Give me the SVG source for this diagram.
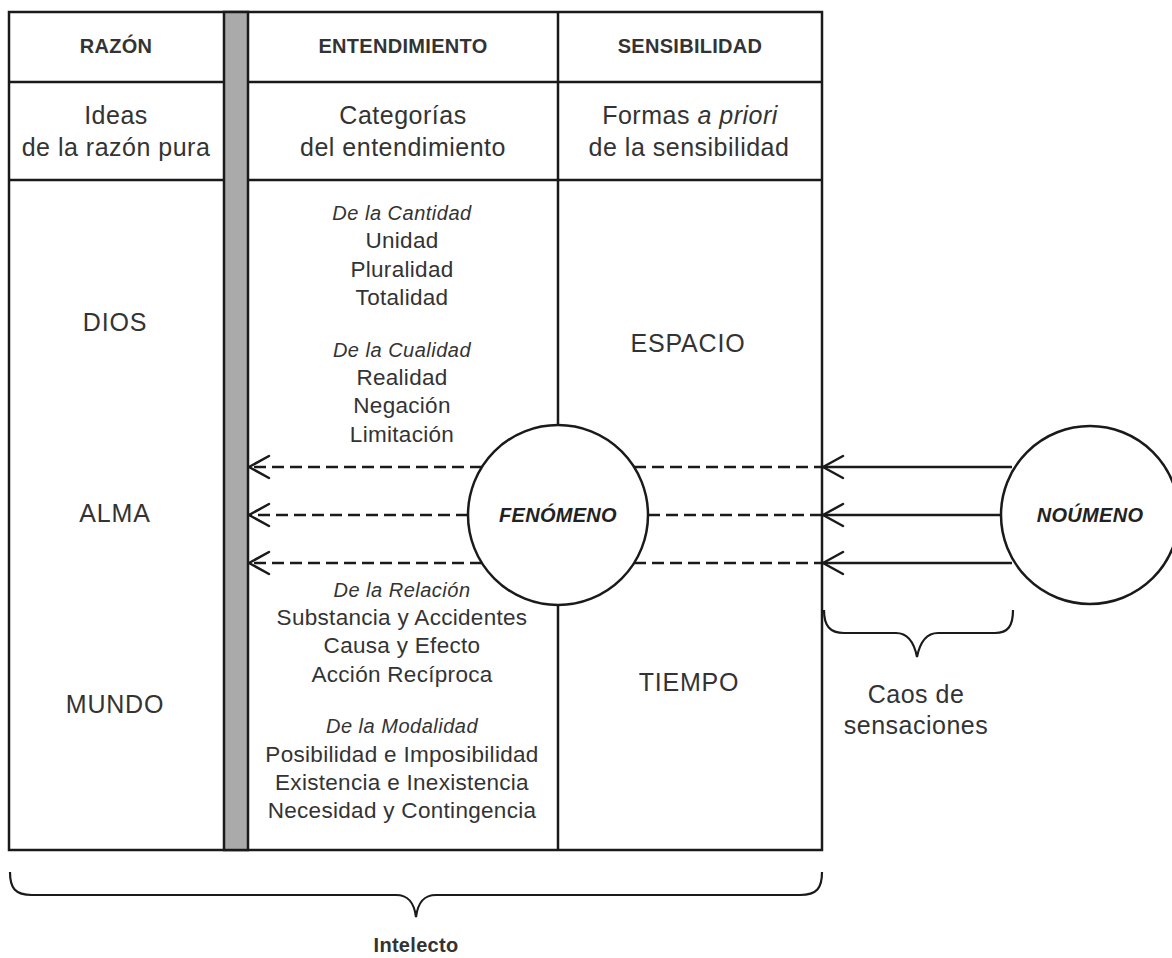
<svg xmlns="http://www.w3.org/2000/svg" width="1172" height="958" viewBox="0 0 1172 958">
<style>
text{font-family:"Liberation Sans",Arial,sans-serif;fill:#333;text-anchor:middle}
.hd{font-size:20px;font-weight:bold;letter-spacing:0.3px}
.r2{font-size:25px;letter-spacing:0.5px}
.big{font-size:25px;letter-spacing:0.8px}
.bd{font-size:22.5px;letter-spacing:0.3px}
.it{font-size:20px;font-style:italic;letter-spacing:0.5px}
.nd{font-size:20px;font-weight:bold;font-style:italic;letter-spacing:0.3px;fill:#222}
.ln{stroke:#1a1a1a;stroke-width:2.5;fill:none}
.dash{stroke:#1a1a1a;stroke-width:2.5;fill:none;stroke-dasharray:12 6}
.circ{fill:#fff;stroke:#1a1a1a;stroke-width:2.5}
.brace{stroke:#1a1a1a;stroke-width:2.2;fill:none}
</style>
<defs>
<marker id="open" markerUnits="userSpaceOnUse" viewBox="0 0 26 28" markerWidth="26" markerHeight="28" refX="23" refY="14" orient="auto">
<path d="M3 3 L23 14 L3 25" fill="none" stroke="#1a1a1a" stroke-width="2.5" stroke-linecap="round" stroke-linejoin="round"/>
</marker>
</defs>
<rect width="1172" height="958" fill="#fff"/>
<g id="table">
<rect class="ln" x="9" y="12" width="813" height="838"/>
<line class="ln" x1="9" y1="82" x2="822" y2="82"/>
<line class="ln" x1="9" y1="180" x2="822" y2="180"/>
<line class="ln" x1="558" y1="12" x2="558" y2="850"/>
<rect x="224" y="12" width="24" height="838" fill="#aaa" stroke="#1a1a1a" stroke-width="2.5"/>
</g>
<g id="razon">
<text class="hd" x="116" y="53">RAZÓN</text>
<text class="r2" x="116" y="124">Ideas</text>
<text class="r2" x="116" y="156">de la razón pura</text>
<text class="big" x="115" y="331">DIOS</text>
<text class="big" x="115" y="522">ALMA</text>
<text class="big" x="115" y="713">MUNDO</text>
</g>
<g id="entendimiento">
<text class="hd" x="403" y="53">ENTENDIMIENTO</text>
<text class="r2" x="403" y="124">Categorías</text>
<text class="r2" x="403" y="156">del entendimiento</text>
<text class="it" x="402" y="220">De la Cantidad</text>
<text class="bd" x="402" y="248">Unidad</text>
<text class="bd" x="402" y="277">Pluralidad</text>
<text class="bd" x="402" y="305">Totalidad</text>
<text class="it" x="402" y="357">De la Cualidad</text>
<text class="bd" x="402" y="385">Realidad</text>
<text class="bd" x="402" y="413">Negación</text>
<text class="bd" x="402" y="442">Limitación</text>
<text class="it" x="402" y="597">De la Relación</text>
<text class="bd" x="402" y="625">Substancia y Accidentes</text>
<text class="bd" x="402" y="653">Causa y Efecto</text>
<text class="bd" x="402" y="682">Acción Recíproca</text>
<text class="it" x="402" y="733">De la Modalidad</text>
<text class="bd" x="402" y="762">Posibilidad e Imposibilidad</text>
<text class="bd" x="402" y="790">Existencia e Inexistencia</text>
<text class="bd" x="402" y="818">Necesidad y Contingencia</text>
</g>
<g id="sensibilidad">
<text class="hd" x="690" y="53">SENSIBILIDAD</text>
<text class="r2" x="690" y="124">Formas <tspan font-style="italic">a priori</tspan></text>
<text class="r2" x="689" y="156">de la sensibilidad</text>
<text class="big" x="688" y="352">ESPACIO</text>
<text class="big" x="689" y="691">TIEMPO</text>
</g>
<g id="connectors">
<line class="dash" x1="482" y1="467" x2="249" y2="467" marker-end="url(#open)"/>
<line class="dash" x1="468" y1="515" x2="249" y2="515" marker-end="url(#open)"/>
<line class="dash" x1="482" y1="563" x2="249" y2="563" marker-end="url(#open)"/>
<line class="dash" x1="634" y1="467" x2="822" y2="467"/>
<line class="dash" x1="648" y1="515" x2="822" y2="515"/>
<line class="dash" x1="634" y1="563" x2="822" y2="563"/>
<line class="ln" x1="1012" y1="467" x2="823" y2="467" marker-end="url(#open)"/>
<line class="ln" x1="1000" y1="515" x2="823" y2="515" marker-end="url(#open)"/>
<line class="ln" x1="1012" y1="563" x2="823" y2="563" marker-end="url(#open)"/>
</g>
<g id="fenomeno">
<circle class="circ" cx="558" cy="515" r="90"/>
<text class="nd" x="558" y="522">FENÓMENO</text>
</g>
<g id="noumeno">
<circle class="circ" cx="1090" cy="515" r="89"/>
<text class="nd" x="1090" y="522">NOÚMENO</text>
</g>
<g id="caos">
<path class="brace" d="M824 610 C824 626 830 633 844 633 L896 633 C908 633 914 642 917 657 C920 642 926 633 938 633 L995 633 C1008 633 1013 626 1013 610"/>
<text class="r2" x="916" y="703">Caos de</text>
<text class="r2" x="916" y="734">sensaciones</text>
</g>
<g id="intelecto">
<path class="brace" d="M10 872 C10 888 15 895 32 895 L396 895 C408 895 414 902 416 917 C418 902 424 895 436 895 L800 895 C817 895 822 888 822 872"/>
<text class="hd" x="416" y="952">Intelecto</text>
</g>
</svg>
